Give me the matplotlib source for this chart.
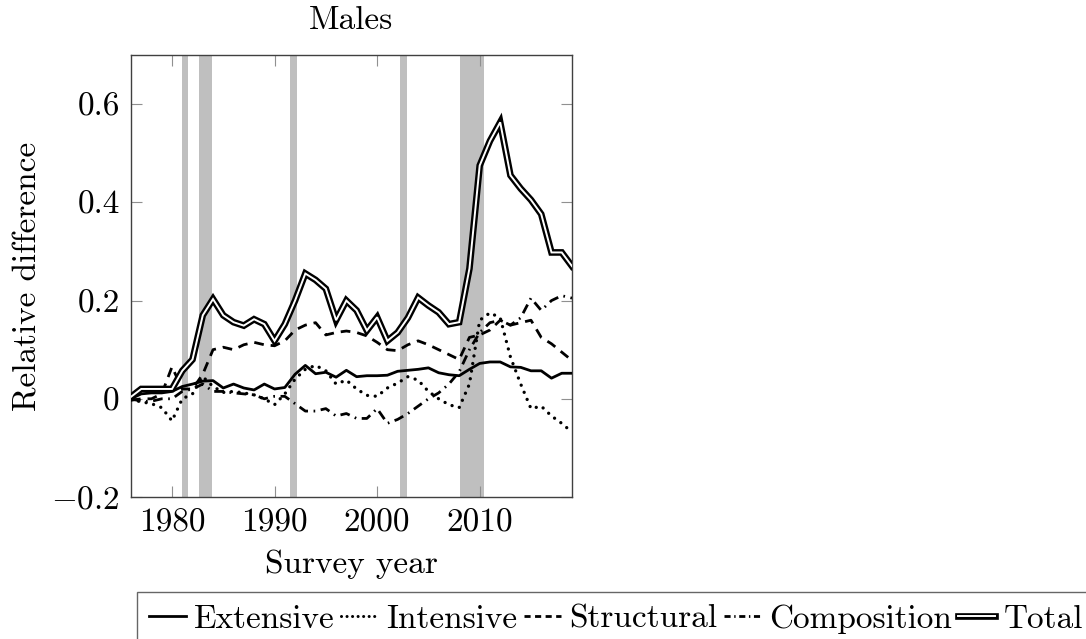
import numpy as np
import matplotlib
matplotlib.use("Agg")
import matplotlib.pyplot as plt
from matplotlib.lines import Line2D
from matplotlib.legend_handler import HandlerTuple

plt.rcParams['font.family'] = 'serif'
plt.rcParams['font.serif'] = ['cmr10', 'DejaVu Serif']
plt.rcParams['mathtext.fontset'] = 'cm'
plt.rcParams['axes.unicode_minus'] = False

# survey years 1976-2019
years = list(range(1976, 2020))

extensive = [0.0, 0.01, 0.012, 0.012, 0.015, 0.025, 0.03, 0.036, 0.037, 0.022,
             0.03, 0.022, 0.018, 0.03, 0.02, 0.023, 0.05, 0.068, 0.051, 0.054,
             0.044, 0.058, 0.045, 0.047, 0.047, 0.048, 0.056, 0.058, 0.06, 0.063,
             0.053, 0.049, 0.047, 0.06, 0.072, 0.075, 0.075, 0.065, 0.064, 0.057,
             0.057, 0.042, 0.052, 0.052]

intensive = [-0.002, -0.006, -0.01, -0.018, -0.045, 0.0, 0.01, 0.045, 0.025, 0.013,
             0.015, 0.012, 0.008, 0.0, -0.012, 0.01, 0.04, 0.06, 0.068, 0.057,
             0.03, 0.038, 0.02, 0.007, 0.005, 0.022, 0.032, 0.045, 0.038, 0.015,
             0.0, -0.012, -0.018, 0.03, 0.16, 0.175, 0.165, 0.085, 0.03, -0.02,
             -0.015, -0.035, -0.05, -0.068]

structural = [-0.003, 0.0, 0.0, 0.01, 0.065, 0.02, 0.02, 0.05, 0.1, 0.105,
              0.1, 0.11, 0.115, 0.11, 0.108, 0.118, 0.14, 0.15, 0.155, 0.13,
              0.135, 0.138, 0.135, 0.128, 0.115, 0.1, 0.098, 0.11, 0.118, 0.11,
              0.1, 0.09, 0.08, 0.125, 0.13, 0.14, 0.16, 0.15, 0.155, 0.16,
              0.125, 0.112, 0.095, 0.078]

composition = [0.0, -0.005, -0.005, 0.0, 0.0, 0.015, 0.02, 0.03, 0.015, 0.015,
               0.012, 0.01, 0.008, 0.0, 0.005, 0.005, -0.01, -0.025, -0.025, -0.02,
               -0.035, -0.03, -0.04, -0.04, -0.02, -0.05, -0.042, -0.03, -0.015, 0.0,
               0.012, 0.03, 0.055, 0.1, 0.135, 0.155, 0.16, 0.15, 0.165, 0.205,
               0.18, 0.2, 0.21, 0.205]

total = [0.004, 0.02, 0.02, 0.02, 0.02, 0.057, 0.08, 0.17, 0.203, 0.17,
         0.156, 0.149, 0.162, 0.152, 0.118, 0.152, 0.2, 0.255, 0.242, 0.224,
         0.16, 0.2, 0.18, 0.139, 0.166, 0.118, 0.135, 0.165, 0.206, 0.19,
         0.176, 0.152, 0.156, 0.265, 0.475, 0.525, 0.563, 0.455, 0.428, 0.405,
         0.376, 0.298, 0.298, 0.27]

# shaded recession periods (survey-year timing)
rec_start = [1981.0, 1982.6, 1991.55, 2002.2, 2008.1]
rec_end = [1981.6, 1983.9, 1992.2, 2002.9, 2010.45]

fig = plt.figure(figsize=(10.86, 6.39), dpi=100)
ax = fig.add_axes([0.1206, 0.2222, 0.4061, 0.6917])

for s, e in zip(rec_start, rec_end):
    ax.axvspan(s, e, color='#bfbfbf', lw=0, zorder=1)

ax.plot(years, extensive, color='black', lw=2.0, zorder=3)
ax.plot(years, intensive, color='black', lw=2.4, ls=(0, (0.01, 2.3)),
        dash_capstyle='round', zorder=3)
ax.plot(years, structural, color='black', lw=2.0, ls=(0, (3.5, 2.5)), zorder=3)
ax.plot(years, composition, color='black', lw=2.0, ls=(0, (3.5, 2.0, 0.6, 2.0)),
        zorder=3)
ax.plot(years, total, color='black', lw=4.8, zorder=4, solid_joinstyle='miter')
ax.plot(years, total, color='white', lw=1.4, zorder=5, solid_joinstyle='miter')

ax.set_xlim(1976, 2019)
ax.set_ylim(-0.2, 0.7)
ax.set_xticks([1980, 1990, 2000, 2010])
ax.set_yticks([-0.2, 0, 0.2, 0.4, 0.6])
ax.set_yticklabels([r'$-0.2$', '0', '0.2', '0.4', '0.6'])

fs = 24
ax.tick_params(direction='in', length=8, width=0.8, color='#909090',
               top=True, right=True, labelsize=fs, pad=8)
for sp in ax.spines.values():
    sp.set_color('#404040')
    sp.set_linewidth(1.0)

ax.set_title('Males', fontsize=fs, pad=19)
ax.set_xlabel('Survey year', fontsize=fs, labelpad=9)
ax.set_ylabel('Relative difference', fontsize=fs, labelpad=6)

# legend handles
h_ext = Line2D([], [], color='black', lw=2.0)
h_int = Line2D([], [], color='black', lw=2.2, ls=(0, (0.01, 1.8)), dash_capstyle='round')
h_str = Line2D([], [], color='black', lw=2.0, ls=(0, (2.2, 1.6)))
h_com = Line2D([], [], color='black', lw=2.0, ls=(0, (2.2, 1.3, 0.5, 1.3)))
h_tot_b = Line2D([], [], color='black', lw=4.8)
h_tot_w = Line2D([], [], color='white', lw=1.4)

leg = fig.legend([h_ext, h_int, h_str, h_com, (h_tot_b, h_tot_w)],
                 ['Extensive', 'Intensive', 'Structural', 'Composition', 'Total'],
                 handler_map={tuple: HandlerTuple(ndivide=1, pad=0)},
                 loc='upper left', bbox_to_anchor=(137 / 1086, 1 - 592 / 639),
                 ncol=5, fontsize=fs, frameon=True, fancybox=False,
                 handlelength=1.1, handletextpad=0.25, columnspacing=0.2,
                 borderpad=0.36, borderaxespad=0)
leg.get_frame().set_edgecolor('#404040')
leg.get_frame().set_linewidth(1.0)

fig.savefig('out.png', dpi=100)
